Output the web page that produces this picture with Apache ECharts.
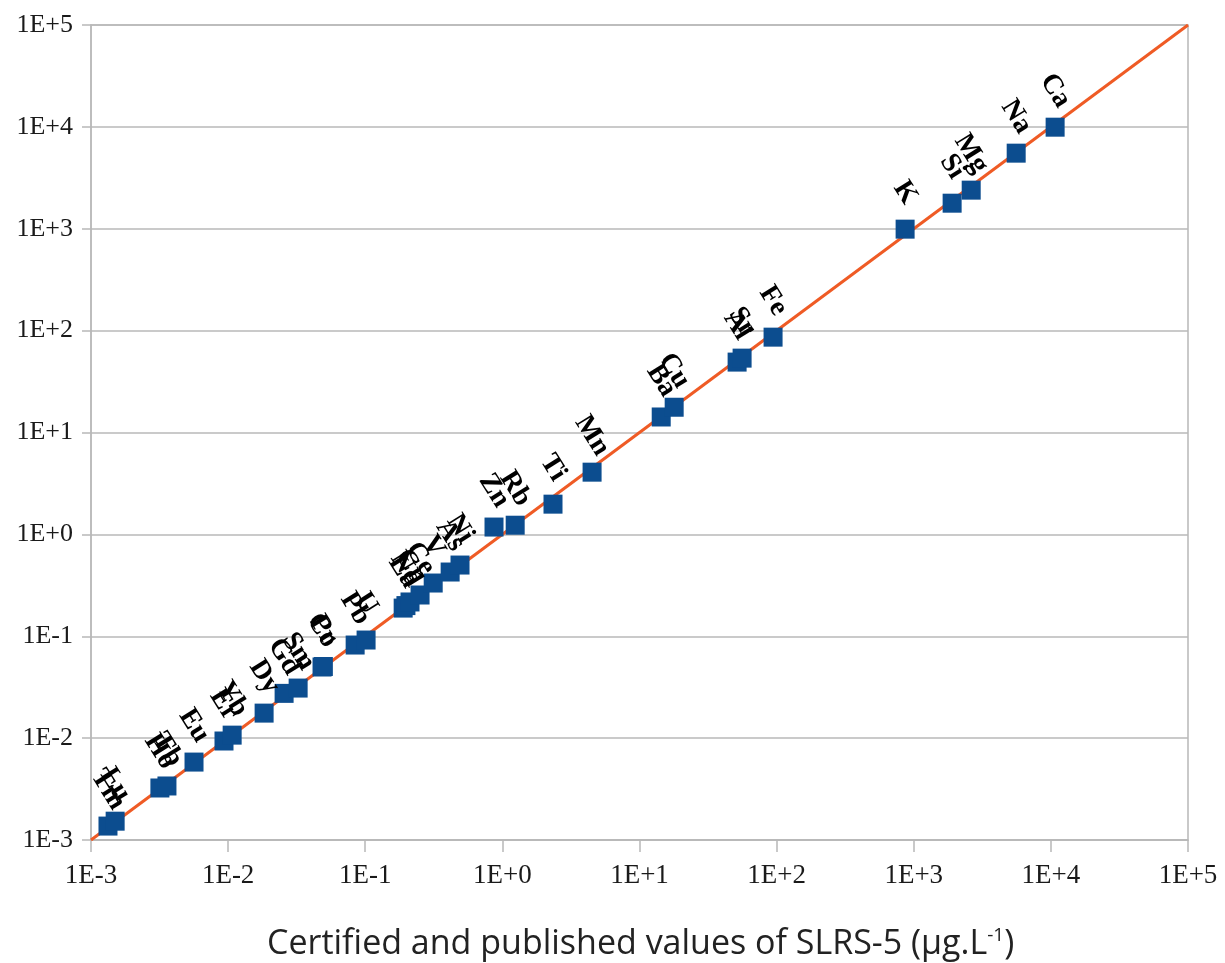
<!DOCTYPE html>
<html>
<head>
<meta charset="utf-8">
<script src="https://cdn.jsdelivr.net/npm/echarts@6/dist/echarts.min.js"></script>
<style>html,body{margin:0;padding:0;background:#fff}#c{width:1225px;height:963px}</style>
</head>
<body>
<div id="c"></div>
<script>
const elements = ['Tm','Lu','Ho','Tb','Eu','Er','Yb','Dy','Gd','Sm','Co','Pr','Pb','U','La','Nd','Cr','Ce','V','As','Ni','Zn','Rb','Ti','Mn','Ba','Cu','Al','Sr','Fe','K','Si','Mg','Na','Ca'];
const certified = [0.00133,0.0015,0.00318,0.00358,0.00564,0.00933,0.0107,0.0183,0.0256,0.0324,0.0484,0.0495,0.0844,0.1014,0.189,0.198,0.212,0.251,0.313,0.416,0.491,0.869,1.24,2.34,4.51,14.4,17.9,51.5,56,94.2,865,1905,2624,5585,10740];
const measured  = [0.00137,0.00153,0.00324,0.00339,0.00582,0.00937,0.0107,0.0176,0.0275,0.031,0.0499,0.0505,0.082,0.0918,0.189,0.20,0.217,0.254,0.333,0.427,0.50,1.18,1.23,1.98,4.08,14.2,17.7,49.1,53.7,86.3,991,1782,2393,5521,9930];
const lineRange = [0.001, 100000];
const axisMin = 0.001, axisMax = 100000;

function fmt(v){
  const e = Math.round(Math.log10(v));
  return '1E' + (e >= 0 ? '+' : '-') + Math.abs(e);
}

const chart = echarts.init(document.getElementById('c'));
const gray = '#b8b8b8';
chart.setOption({
  animation: false,
  backgroundColor: '#fff',
  grid: { left: 91, right: 37, top: 25, bottom: 123, show: true, borderColor: gray, borderWidth: 1.5 },
  title: {
    text: '{a|Certified and published values of SLRS-5 (µg.L}{s|-1}{a|)}',
    left: 262, top: 921,
    textStyle: {
      fontWeight: 'normal',
      rich: {
        a: { fontFamily: 'Open Sans', fontWeight: 'normal', fontSize: 34, color: '#222' },
        s: { fontFamily: 'Open Sans', fontWeight: 'normal', fontSize: 19, color: '#222', verticalAlign: 'top', padding: [0,0,18,0] }
      }
    }
  },
  xAxis: {
    type: 'log', logBase: 10, min: axisMin, max: axisMax,
    axisLine: { show: true, lineStyle: { color: gray, width: 1.5 } },
    axisTick: { show: true, length: 12, lineStyle: { color: gray, width: 1.5 } },
    minorTick: { show: false },
    splitLine: { show: false },
    axisLabel: { formatter: fmt, fontFamily: 'Liberation Serif', fontSize: 27, color: '#1a1a1a', margin: 22 }
  },
  yAxis: {
    type: 'log', logBase: 10, min: axisMin, max: axisMax,
    axisLine: { show: true, lineStyle: { color: gray, width: 1.5 } },
    axisTick: { show: true, length: 9, lineStyle: { color: gray, width: 1.5 } },
    splitLine: { show: true, lineStyle: { color: gray, width: 1.5 } },
    axisLabel: { formatter: fmt, fontFamily: 'Liberation Serif', fontSize: 26, color: '#1a1a1a', margin: 18 }
  },
  series: [
    {
      type: 'line', data: lineRange.map(v => [v, v]), showSymbol: false, symbol: 'none',
      lineStyle: { color: '#EF5B25', width: 3 }, z: 1, silent: true
    },
    {
      type: 'scatter', z: 3,
      symbol: 'rect', symbolSize: 19,
      itemStyle: { color: '#0C4D8F', opacity: 1 },
      data: elements.map((n, i) => ({ name: n, value: [certified[i], measured[i]] })),
      label: {
        show: true, formatter: '{b}', position: 'top', distance: 27,
        rotate: -58, align: 'center', verticalAlign: 'middle',
        fontFamily: 'Liberation Serif', fontWeight: 'bold', fontSize: 28, color: '#000'
      },
      labelLayout: { hideOverlap: false }
    }
  ]
});
</script>
</body>
</html>
